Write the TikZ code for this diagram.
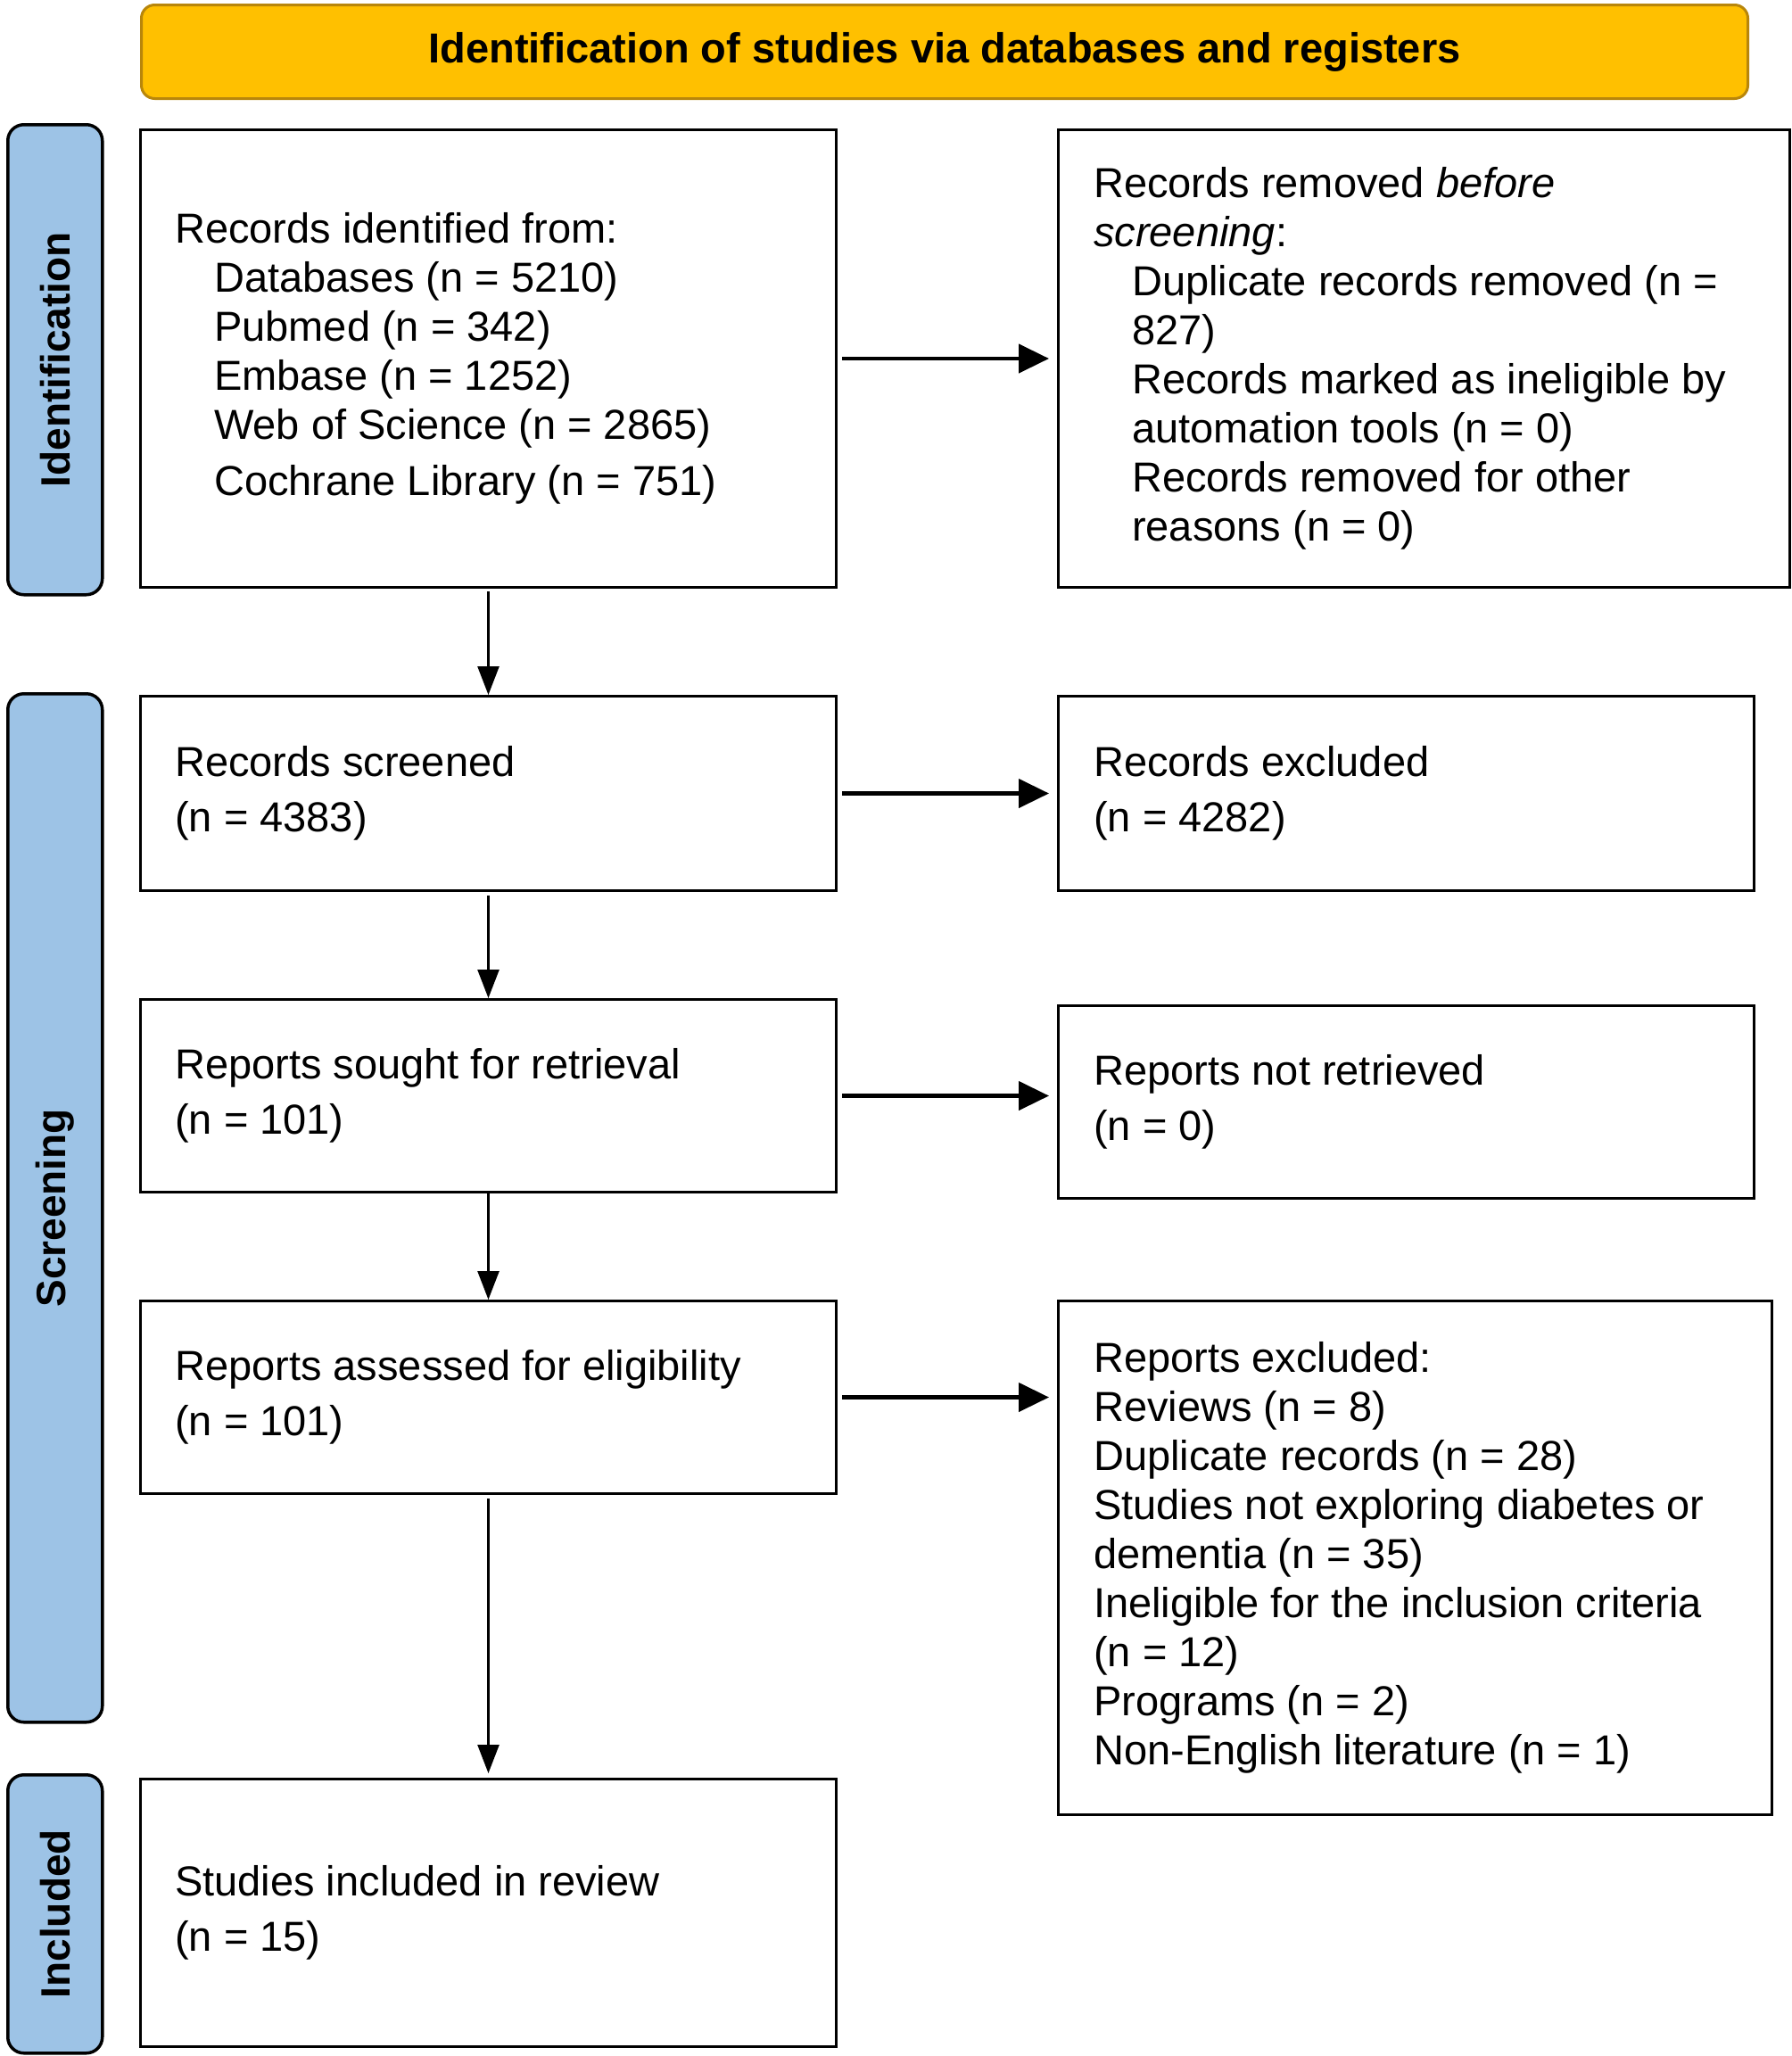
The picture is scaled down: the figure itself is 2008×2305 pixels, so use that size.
\documentclass[tikz,border=0pt]{standalone}
\usepackage{fontspec}
\setmainfont{Liberation Sans}
\usetikzlibrary{arrows.meta,calc}
\definecolor{hdrfill}{HTML}{FFC000}
\definecolor{hdrdraw}{HTML}{B8860B}
\definecolor{tabfill}{HTML}{9DC3E6}
\begin{document}
\begin{tikzpicture}[x=1pt,y=-1pt,
  box/.style={draw=black,line width=3pt,anchor=north west,inner sep=0pt},
  txt/.style={anchor=west,align=left,inner sep=0pt,font=\fontsize{47pt}{55pt}\selectfont},
  txtb/.style={anchor=west,align=left,inner sep=0pt,font=\fontsize{47pt}{62pt}\selectfont},
  tab/.style={draw=black,line width=3.5pt,fill=tabfill,rounded corners=18pt,anchor=north west,inner sep=0pt},
  tabtxt/.style={rotate=90,inner sep=0pt,font=\fontsize{46pt}{50pt}\selectfont\bfseries},
  harr/.style={line width=4.5pt,-{Triangle[length=34pt,width=32pt]}},
  varr/.style={line width=2.5pt,-{Triangle[length=32pt,width=24pt]}}]
\useasboundingbox (0,0) rectangle (2008,2305);

% header
\node[draw=hdrdraw,fill=hdrfill,line width=3pt,rounded corners=15pt,minimum width=1801pt,minimum height=105pt,anchor=north west,inner sep=0pt,font=\fontsize{47pt}{55pt}\selectfont\bfseries] (hdr) at (157,4) {Identification of studies via databases and registers};

% side tabs
\node[tab,minimum width=106pt,minimum height=527pt] (tid) at (7,138) {};
\node[tabtxt] (tidt) at (tid.center) {Identification};
\node[tab,minimum width=106pt,minimum height=1153pt] (tsc) at (7,776) {};
\node[tabtxt] (tsct) at (tsc.center) {Screening};
\node[tab,minimum width=106pt,minimum height=312pt] (tin) at (7,1988) {};
\node[tabtxt] (tint) at (tin.center) {Included};

% left column boxes
\node[box,minimum width=780pt,minimum height=513pt] (b1) at (156,144) {};
\node[box,minimum width=780pt,minimum height=218pt] (b2) at (156,779) {};
\node[box,minimum width=780pt,minimum height=216pt] (b3) at (156,1119) {};
\node[box,minimum width=780pt,minimum height=216pt] (b4) at (156,1457) {};
\node[box,minimum width=780pt,minimum height=300pt] (b5) at (156,1993) {};

% right column boxes
\node[box,minimum width=820pt,minimum height=513pt] (r1) at (1185,144) {};
\node[box,minimum width=780pt,minimum height=218pt] (r2) at (1185,779) {};
\node[box,minimum width=780pt,minimum height=216pt] (r3) at (1185,1126) {};
\node[box,minimum width=800pt,minimum height=576pt] (r4) at (1185,1457) {};

% texts
\node[txt] (b1t) at ($(b1.west)+(40,0)$) {Records identified from:\\
\hspace*{44pt}Databases (n = 5210)\\
\hspace*{44pt}Pubmed (n = 342)\\
\hspace*{44pt}Embase (n = 1252)\\
\hspace*{44pt}Web of Science (n = 2865)\\[8pt]
\hspace*{44pt}Cochrane Library (n = 751)};

\node[txt] (r1t) at ($(r1.west)+(41,0)$) {Records removed \textit{before}\\
\textit{screening}:\\
\hspace*{43pt}Duplicate records removed (n =\\
\hspace*{43pt}827)\\
\hspace*{43pt}Records marked as ineligible by\\
\hspace*{43pt}automation tools (n = 0)\\
\hspace*{43pt}Records removed for other\\
\hspace*{43pt}reasons (n = 0)};

\node[txtb] (b2t) at ($(b2.west)+(40,0)$) {Records screened\\(n = 4383)};
\node[txtb] (r2t) at ($(r2.west)+(41,0)$) {Records excluded\\(n = 4282)};
\node[txtb] (b3t) at ($(b3.west)+(40,0)$) {Reports sought for retrieval\\(n = 101)};
\node[txtb] (r3t) at ($(r3.west)+(41,0)$) {Reports not retrieved\\(n = 0)};
\node[txtb] (b4t) at ($(b4.west)+(40,0)$) {Reports assessed for eligibility\\(n = 101)};
\node[txt] (r4t) at ($(r4.west)+(41,0)$) {Reports excluded:\\
Reviews (n = 8)\\
Duplicate records (n = 28)\\
Studies not exploring diabetes or\\
dementia (n = 35)\\
Ineligible for the inclusion criteria\\
(n = 12)\\
Programs (n = 2)\\
Non-English literature (n = 1)};
\node[txtb] (b5t) at ($(b5.west)+(40,0)$) {Studies included in review\\(n = 15)};

% vertical arrows
\draw[varr,shorten <=3pt] (b1.south) -- (b2.north);
\draw[varr,shorten <=4pt] (b2.south) -- (b3.north);
\draw[varr] (b3.south) -- (b4.north);
\draw[varr,shorten <=4pt,shorten >=5pt] (b4.south) -- (b5.north);

% horizontal arrows
\draw[harr,shorten <=5pt,shorten >=9pt] (b1.east) -- (b1.east -| r1.west);
\draw[harr,shorten <=5pt,shorten >=9pt] (b2.east) -- (b2.east -| r2.west);
\draw[harr,shorten <=5pt,shorten >=9pt] (b3.east) -- (b3.east -| r3.west);
\draw[harr,shorten <=5pt,shorten >=9pt] (b4.east) -- (b4.east -| r4.west);
\end{tikzpicture}
\end{document}
